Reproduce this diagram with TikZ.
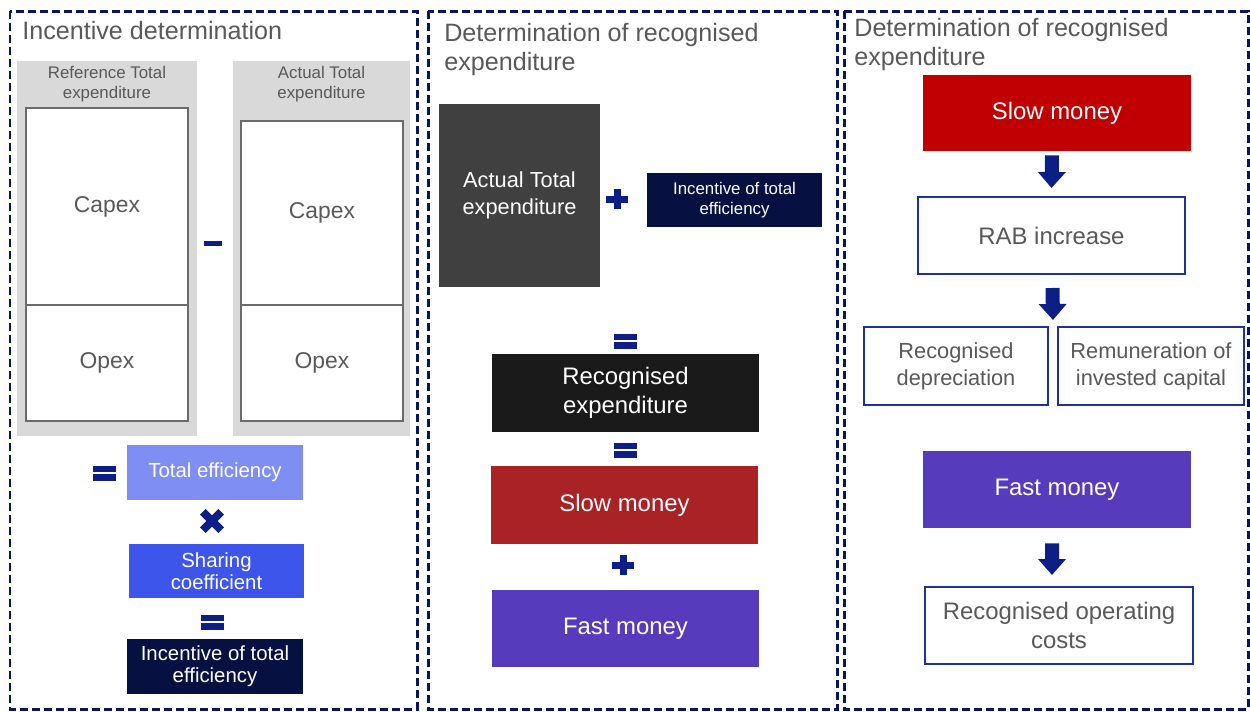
\documentclass[tikz,border=0pt]{standalone}
\usepackage{fontspec}
\setmainfont{Liberation Sans}
\usetikzlibrary{arrows.meta}

\definecolor{framenavy}{HTML}{0A1560}
\definecolor{opcol}{HTML}{0D1F86}
\definecolor{txtgray}{HTML}{595959}
\definecolor{panelgray}{HTML}{D9D9D9}
\definecolor{edgegray}{HTML}{6B6B6B}
\definecolor{effblue}{HTML}{7F8EF2}
\definecolor{sharblue}{HTML}{3D55EA}
\definecolor{incnavy}{HTML}{061041}
\definecolor{actgray}{HTML}{404040}
\definecolor{recblack}{HTML}{1A1A1A}
\definecolor{slowdark}{HTML}{A92226}
\definecolor{slowred}{HTML}{C00000}
\definecolor{fastviolet}{HTML}{563CBD}
\definecolor{rabnavy}{HTML}{1F3396}

\tikzset{
  plussign/.pic={
    \fill[opcol] (-11,-3.5) rectangle (11,3.5);
    \fill[opcol] (-3.5,-10) rectangle (3.5,10);
  },
  timessign/.pic={
    \fill[opcol, rotate=45] (-13,-4) rectangle (13,4);
    \fill[opcol, rotate=45] (-4,-13) rectangle (4,13);
  },
  minussign/.pic={
    \fill[opcol] (-9,-2.5) rectangle (9,2.5);
  },
  equalsign/.pic={
    \fill[opcol] (-11.5,-7.5) rectangle (11.5,-0.8);
    \fill[opcol] (-11.5,0.8) rectangle (11.5,7.5);
  }
}

\begin{document}
\begin{tikzpicture}[x=0.02cm, y=-0.02cm,
  frame/.style={draw=framenavy, line width=0.06cm, dash pattern=on 0.16cm off 0.08cm},
  title/.style={anchor=north west, inner sep=0pt, align=left, text=txtgray,
    font=\fontsize{14.3}{16.5}\selectfont},
  box/.style={rectangle, inner sep=0pt, align=center, text=white},
  bigtxt/.style={font=\fontsize{13.6}{16.5}\selectfont},
  midtxt/.style={font=\fontsize{11.6}{12.6}\selectfont},
  smalltxt/.style={font=\fontsize{9.6}{11.1}\selectfont},
  greybox/.style={box, fill=panelgray, minimum height=7.5cm},
  costbox/.style={box, fill=white, draw=edgegray, line width=0.03cm, text=txtgray,
    minimum width=3.24cm, font=\fontsize{13}{15}\selectfont},
  outline/.style={box, fill=white, draw=rabnavy, line width=0.04cm, text=txtgray},
  blockarrow/.style={draw=opcol, line width=0.28cm, -{Triangle[width=0.54cm,length=0.32cm]}}
]

\useasboundingbox (0,0) rectangle (1250,711);

% panel frames
\draw[frame] (10,11) rectangle (417,709);
\draw[frame] (428,11) rectangle (837,709);
\draw[frame] (844,11) rectangle (1248,709);

% panel 1: incentive determination
\node[title] (t1) at (22,21) {Incentive determination};

\node[greybox, minimum width=3.6cm] (refbg) at (107,248.5) {};
\node[box, text=txtgray, smalltxt] (reflbl) at (107,84) {Reference Total\\expenditure};
\node[costbox, minimum height=3.94cm] (refcap) at (107,206.5) {Capex};
\node[costbox, minimum height=2.32cm] (refop) at (107,363) {Opex};

\node[greybox, minimum width=3.54cm] (actbg) at (321.5,248.5) {};
\node[box, text=txtgray, smalltxt] (actlbl) at (321.5,84) {Actual Total\\expenditure};
\node[costbox, minimum height=3.68cm] (actcap) at (322,213) {Capex};
\node[costbox, minimum height=2.32cm] (actop) at (322,363) {Opex};

\pic at (213,243) {minussign};
\pic at (104,473) {equalsign};

\node[box, fill=effblue, minimum width=3.52cm, minimum height=1.1cm, midtxt] (toteff) at (215,472.5) {Total efficiency};
\pic at (212,521) {timessign};
\node[box, fill=sharblue, minimum width=3.5cm, minimum height=1.08cm, midtxt] (share) at (216.5,571) {Sharing\\coefficient};
\pic at (212,622) {equalsign};
\node[box, fill=incnavy, minimum width=3.52cm, minimum height=1.1cm, midtxt] (inc1) at (215,666.5) {Incentive of total\\efficiency};

% panel 2: recognised expenditure
\node[title] (t2) at (444,23) {Determination of recognised\\expenditure};

\node[box, fill=actgray, minimum width=3.22cm, minimum height=3.66cm,
  font=\fontsize{12.4}{15.4}\selectfont] (act2) at (519.5,195.5) {Actual Total\\expenditure};
\pic at (617,199) {plussign};
\node[box, fill=incnavy, minimum width=3.5cm, minimum height=1.08cm, smalltxt] (inc2) at (734.5,200) {Incentive of total\\efficiency};

\pic at (625,341) {equalsign};
\node[box, fill=recblack, minimum width=5.34cm, minimum height=1.56cm, bigtxt] (recexp) at (625.5,393) {Recognised\\expenditure};
\pic at (625,450) {equalsign};
\node[box, fill=slowdark, minimum width=5.34cm, minimum height=1.56cm, bigtxt] (slow2) at (624.5,505) {Slow money};
\pic at (623,565) {plussign};
\node[box, fill=fastviolet, minimum width=5.34cm, minimum height=1.54cm, bigtxt] (fast2) at (625.5,628.5) {Fast money};

% panel 3: slow and fast money
\node[title] (t3) at (854,18) {Determination of recognised\\expenditure};

\node[box, fill=slowred, minimum width=5.36cm, minimum height=1.52cm, bigtxt] (slow3) at (1057,113) {Slow money};
\node[outline, minimum width=5.34cm, minimum height=1.54cm, bigtxt] (rab) at (1051.5,235.5) {RAB increase};
\node[outline, minimum width=3.68cm, minimum height=1.56cm,
  font=\fontsize{12.4}{15.4}\selectfont] (recdep) at (956,366) {Recognised\\depreciation};
\node[outline, minimum width=3.72cm, minimum height=1.56cm,
  font=\fontsize{12.4}{15.4}\selectfont] (remun) at (1151,366) {Remuneration of\\invested capital};
\coordinate (split) at (1053,327);
\node[box, fill=fastviolet, minimum width=5.36cm, minimum height=1.54cm, bigtxt] (fast3) at (1057,489.5) {Fast money};
\node[outline, minimum width=5.36cm, minimum height=1.54cm, bigtxt] (recop) at (1059,625.5) {Recognised operating\\costs};

\draw[blockarrow] ([xshift=-0.1cm, yshift=-0.08cm]slow3.south) -- ([yshift=0.16cm]rab.north);
\draw[blockarrow] ([xshift=0.02cm, yshift=-0.26cm]rab.south) -- ([yshift=0.14cm]split);
\draw[blockarrow] ([xshift=-0.1cm, yshift=-0.3cm]fast3.south) -- ([xshift=-0.14cm, yshift=0.22cm]recop.north);

\end{tikzpicture}
\end{document}
